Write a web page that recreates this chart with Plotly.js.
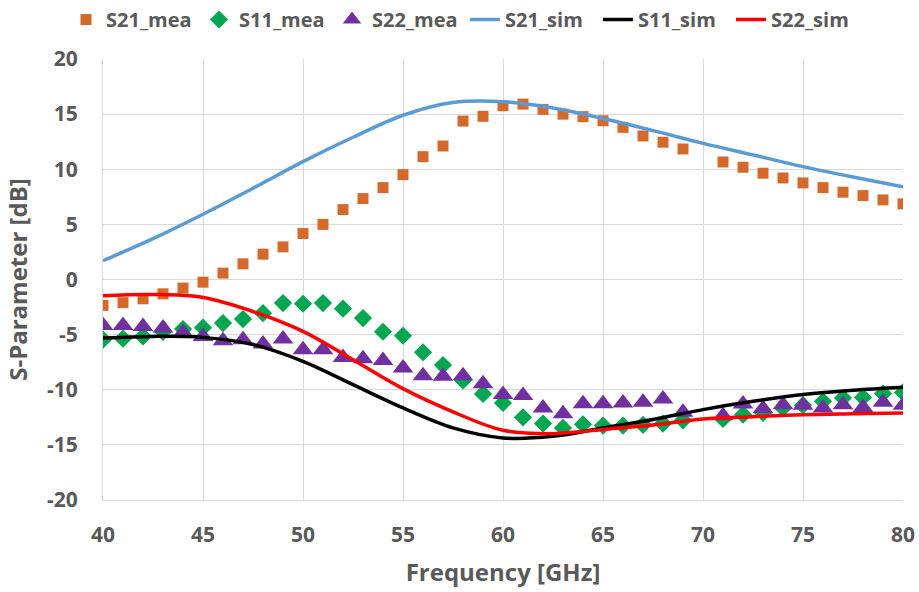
<!DOCTYPE html>
<html><head><meta charset="utf-8">
<script src="https://cdn.plot.ly/plotly-3.0.1.min.js"></script>
<style>html,body{margin:0;padding:0;background:#fff;}#chart{width:919px;height:592px;}</style>
</head><body><div id="chart"></div>
<script>
const freqMea = [40,41,42,43,44,45,46,47,48,49,50,51,52,53,54,55,56,57,58,59,60,61,62,63,64,65,66,67,68,69,71,72,73,74,75,76,77,78,79,80];
const s21Mea = [-2.35,-2.1,-1.75,-1.3,-0.78,-0.24,0.58,1.42,2.3,2.96,4.17,5.0,6.34,7.34,8.33,9.51,11.14,12.11,14.37,14.8,15.76,15.91,15.43,15.0,14.77,14.4,13.8,13.02,12.45,11.84,10.66,10.18,9.64,9.21,8.76,8.33,7.92,7.61,7.22,6.86];
const s11Mea = [-5.46,-5.37,-5.16,-4.75,-4.5,-4.37,-3.95,-3.59,-3.05,-2.14,-2.2,-2.14,-2.65,-3.5,-4.74,-5.1,-6.6,-7.76,-9.15,-10.38,-11.2,-12.5,-13.07,-13.46,-13.13,-13.25,-13.25,-13.18,-13.07,-12.77,-12.65,-12.26,-12.1,-11.65,-11.4,-11.05,-10.75,-10.7,-10.35,-10.24];
const s22Mea = [-4.17,-4.17,-4.26,-4.4,-4.8,-5.16,-5.55,-5.46,-5.85,-5.4,-6.37,-6.37,-7.07,-7.18,-7.35,-8.03,-8.72,-8.78,-8.72,-9.45,-10.44,-10.53,-11.65,-12.17,-11.26,-11.26,-11.2,-11.14,-10.84,-12.04,-12.35,-11.29,-11.71,-11.35,-11.4,-11.65,-11.35,-11.6,-11.14,-11.4];

const freqSim = [40,42.5,45,47.5,50,52.5,55,57.5,60,62.5,65,67.5,70,72.5,75,77.5,80];
const s21Sim = [1.7,3.7,5.92,8.28,10.69,12.9,14.9,16.05,16.12,15.55,14.6,13.5,12.35,11.3,10.24,9.3,8.42];
const s11Sim = [-5.31,-5.16,-5.25,-5.9,-7.43,-9.54,-11.65,-13.46,-14.37,-14.22,-13.46,-12.7,-11.8,-11.05,-10.44,-10.05,-9.78];
const s22Sim = [-1.48,-1.36,-1.63,-2.9,-4.7,-7.27,-9.9,-12.0,-13.68,-13.98,-13.6,-13.2,-12.65,-12.44,-12.26,-12.17,-12.1];

const xTicks = [40,45,50,55,60,65,70,75,80];
const yTicks = [-20,-15,-10,-5,0,5,10,15,20];

const FONT = '"Open Sans", "Liberation Sans", sans-serif';
const traces = [
  {x:freqMea, y:s21Mea, name:'S21_mea', mode:'markers', type:'scatter',
   marker:{symbol:'square', size:11, color:'#D5692B'}},
  {x:freqMea, y:s11Mea, name:'S11_mea', mode:'markers', type:'scatter',
   marker:{symbol:'diamond', size:14, color:'#00A650'}},
  {x:freqMea, y:s22Mea, name:'S22_mea', mode:'markers', type:'scatter',
   marker:{symbol:'triangle-up', size:18, color:'#7030A0'}},
  {x:freqSim, y:s21Sim, name:'S21_sim', mode:'lines', type:'scatter',
   line:{color:'#5B9BD5', width:3.5, shape:'spline'}},
  {x:freqSim, y:s11Sim, name:'S11_sim', mode:'lines', type:'scatter',
   line:{color:'#000000', width:3.5, shape:'spline'}},
  {x:freqSim, y:s22Sim, name:'S22_sim', mode:'lines', type:'scatter',
   line:{color:'#FF0000', width:3.5, shape:'spline'}}
];
const layout = {
  width:919, height:592,
  margin:{l:103, r:16, t:59, b:92},
  paper_bgcolor:'#fff', plot_bgcolor:'#fff',
  font:{family:FONT, color:'#595959', size:20, weight:'bold'},
  showlegend:true,
  legend:{orientation:'h', x:0.4525, xanchor:'center', y:1, yanchor:'top', yref:'container',
    font:{family:FONT, size:20, color:'#595959', weight:'bold'}, itemwidth:30, tracegroupgap:0,
    entrywidth:88, entrywidthmode:'pixels'},
  xaxis:{range:[40,80], tickvals:xTicks, ticktext:xTicks.map(String), showgrid:true, gridcolor:'#d9d9d9', gridwidth:1,
    zeroline:false, showline:true, linecolor:'#d9d9d9', ticks:'', ticklen:0, ticklabelstandoff:16,
    tickfont:{family:FONT, size:21, color:'#595959', weight:'bold'},
    title:{text:'Frequency [GHz]', font:{family:FONT, size:24, color:'#595959', weight:'bold'}, standoff:16}},
  yaxis:{range:[-20,20], tickvals:yTicks, ticktext:yTicks.map(String), showgrid:true, gridcolor:'#d9d9d9', gridwidth:1,
    zeroline:false, showline:true, linecolor:'#d9d9d9', ticks:'', ticklen:0, ticklabelstandoff:20,
    tickfont:{family:FONT, size:21, color:'#595959', weight:'bold'},
    title:{text:'S-Parameter [dB]', font:{family:FONT, size:24, color:'#595959', weight:'bold'}, standoff:12}}
};
Plotly.newPlot('chart', traces, layout, {displayModeBar:false, staticPlot:true});
</script></body></html>
